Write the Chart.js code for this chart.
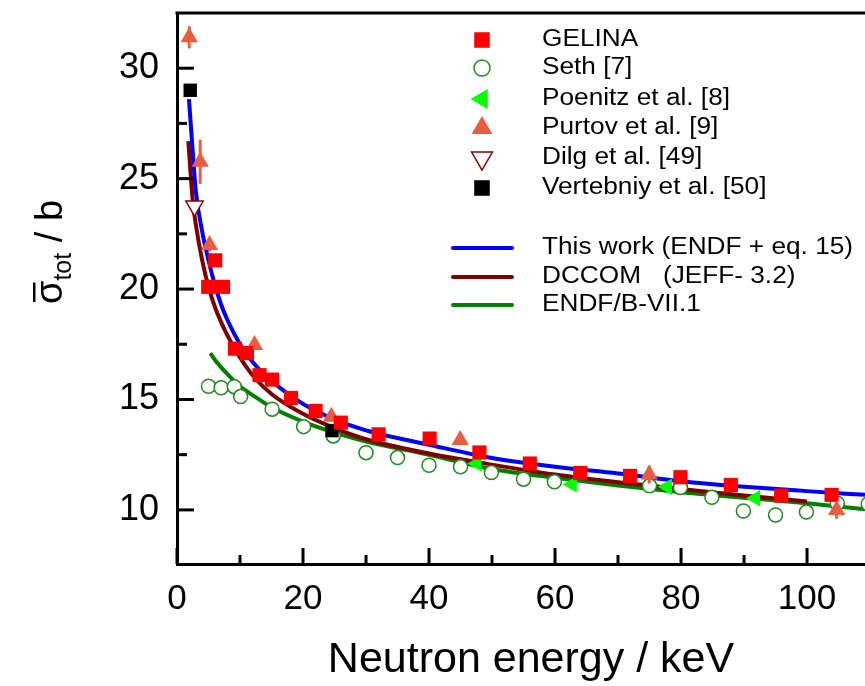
<!DOCTYPE html>
<html lang="en">
<head>
<meta charset="UTF-8">
<title>Total cross section vs neutron energy</title>
<script src="https://cdn.jsdelivr.net/npm/chart.js@4.4.0/dist/chart.umd.min.js"></script>
<style>
  body { margin: 0; background: #fff; }
  #wrap { width: 865px; height: 686px; position: relative; }
</style>
</head>
<body>
<div id="wrap"><canvas id="xsChart"></canvas></div>
<script>
// ---- data (energy in keV, cross section in b) ----
const gelinaE  = [4.95, 6.06, 7.3, 9.2, 11.1, 13.1, 15.1, 18.1, 22.0, 26.0, 32.0, 40.1, 48.0, 56.0, 64.0, 71.9, 79.9, 87.9, 95.9, 103.9];
const gelinaXS = [20.1, 21.3, 20.1, 17.3, 17.1, 16.1, 15.9, 15.07, 14.48, 13.95, 13.42, 13.23, 12.6, 12.1, 11.67, 11.54, 11.48, 11.13, 10.65, 10.68];

const sethE  = [5.0, 7.0, 9.1, 10.1, 15.1, 20.1, 24.8, 30.0, 35.0, 40.0, 45.0, 49.9, 55.0, 59.9, 75.0, 79.9, 84.9, 89.9, 95.0, 99.9, 104.8, 109.7];
const sethXS = [15.6, 15.53, 15.58, 15.13, 14.56, 13.77, 13.35, 12.59, 12.37, 12.02, 11.95, 11.69, 11.39, 11.27, 11.09, 11.01, 10.57, 9.95, 9.77, 9.9, 10.3, 10.27];

const poenitzE  = [47.6, 62.7, 77.8, 91.8];
const poenitzXS = [12.1, 11.16, 11.05, 10.53];

const purtovE   = [1.94, 3.68, 5.16, 12.3, 24.5, 44.95, 74.95, 104.7];
const purtovXS  = [31.4, 25.76, 22.0, 17.47, 14.22, 13.17, 11.6, 10.0];
const purtovErr = [0.5, 1.0, 0.3, 0.2, 0.2, 0.2, 0.4, 0.4];

const dilgE  = [2.78];
const dilgXS = [23.76];

const vertE  = [2.1, 24.6];
const vertXS = [29.0, 13.59];

const thisWorkE  = [1.9, 2.5, 3, 4, 5, 6, 7, 8, 10, 12, 15, 20, 25, 30, 40, 50, 60, 70, 80, 90, 100, 109.2];
const thisWorkXS = [28.6, 26.2, 24.4, 22.6, 21.3, 20.2, 19.3, 18.6, 17.5, 16.7, 15.85, 14.8, 14.1, 13.6, 12.95, 12.35, 11.95, 11.65, 11.3, 11.05, 10.85, 10.68];

const dccomE  = [1.8, 2.5, 3, 4, 5, 6, 8, 10, 12, 15, 20, 25, 30, 40, 50, 60, 70, 80, 90, 100];
const dccomXS = [26.7, 24.0, 22.9, 21.3, 20.1, 19.2, 17.9, 16.9, 16.1, 15.25, 14.35, 13.7, 13.2, 12.55, 12.05, 11.6, 11.25, 10.95, 10.65, 10.38];

const endfE  = [5.3, 6, 8, 10, 12, 15, 20, 25, 30, 40, 50, 60, 70, 80, 90, 100, 109.2];
const endfXS = [17.1, 16.8, 16.15, 15.6, 15.2, 14.65, 14.0, 13.5, 13.1, 12.5, 11.85, 11.45, 11.1, 10.8, 10.55, 10.3, 10.03];

const xTicks = [0, 20, 40, 60, 80, 100];
const xMinor = [10, 30, 50, 70, 90];
const yTicks = [10, 15, 20, 25, 30];
const yMinor = [12.5, 17.5, 22.5, 27.5];

function pts(xs, ys) { return xs.map((x, i) => ({ x: x, y: ys[i] })); }

const FONT = "'Liberation Sans', Arial, sans-serif";

const datasets = [
  { label: 'GELINA', data: pts(gelinaE, gelinaXS), pointStyle: 'rect', pointRadius: 10,
    backgroundColor: '#ff0000', borderColor: '#ff0000', borderWidth: 0, order: 1 },
  { label: 'Vertebniy et al. [50]', data: pts(vertE, vertXS), pointStyle: 'rect', pointRadius: 9.5,
    backgroundColor: '#000000', borderColor: '#000000', borderWidth: 0, order: 1 },
  { label: 'Purtov et al. [9]', data: pts(purtovE, purtovXS), pointStyle: 'triangle', pointRadius: 10,
    backgroundColor: '#e85d42', borderColor: '#e85d42', borderWidth: 0, order: 2 },
  { label: 'Poenitz et al. [8]', data: pts(poenitzE, poenitzXS), pointStyle: 'triangle', pointRadius: 9.5,
    pointRotation: -90, backgroundColor: '#00ff00', borderColor: '#00ff00', borderWidth: 0, order: 2 },
  { label: 'Dilg et al. [49]', data: pts(dilgE, dilgXS), pointStyle: 'triangle', pointRadius: 10,
    pointRotation: 180, backgroundColor: '#ffffff', borderColor: '#8b0000', borderWidth: 1.5, order: 2 },
  { label: 'Seth [7]', data: pts(sethE, sethXS), pointStyle: 'circle', pointRadius: 7,
    backgroundColor: '#ffffff', borderColor: '#1f8a1f', borderWidth: 1.5, order: 3 },
  { type: 'line', label: 'This work (ENDF + eq. 15)', data: pts(thisWorkE, thisWorkXS), showLine: true,
    borderColor: '#0000ff', borderWidth: 4, pointRadius: 0, fill: false, cubicInterpolationMode: 'monotone', order: 10 },
  { type: 'line', label: 'DCCOM   (JEFF- 3.2)', data: pts(dccomE, dccomXS), showLine: true,
    borderColor: '#800000', borderWidth: 4, pointRadius: 0, fill: false, cubicInterpolationMode: 'monotone', order: 11 },
  { type: 'line', label: 'ENDF/B-VII.1', data: pts(endfE, endfXS), showLine: true,
    borderColor: '#008000', borderWidth: 4, pointRadius: 0, fill: false, cubicInterpolationMode: 'monotone', order: 12 }
];

// legend entries: marker rows then line rows
const legendMarkers = [
  { text: 'GELINA', style: 'rect', r: 11, fill: '#ff0000', stroke: null, y: 40 },
  { text: 'Seth [7]', style: 'circle', r: 8, fill: '#ffffff', stroke: '#1f8a1f', y: 68 },
  { text: 'Poenitz et al. [8]', style: 'triangle', r: 11.5, rot: -90, fill: '#00ff00', stroke: null, y: 99 },
  { text: 'Purtov et al. [9]', style: 'triangle', r: 12, fill: '#e85d42', stroke: null, y: 128 },
  { text: 'Dilg et al. [49]', style: 'triangle', r: 12, rot: 180, fill: '#ffffff', stroke: '#8b0000', y: 158 },
  { text: 'Vertebniy et al. [50]', style: 'rect', r: 11, fill: '#000000', stroke: null, y: 188 }
];
const legendLines = [
  { text: 'This work (ENDF + eq. 15)', color: '#0000ff', y: 248 },
  { text: 'DCCOM   (JEFF- 3.2)', color: '#800000', y: 277 },
  { text: 'ENDF/B-VII.1', color: '#008000', y: 305 }
];

function drawMarker(ctx, m, x, y) {
  ctx.save();
  ctx.beginPath();
  if (m.style === 'rect') {
    const s = m.r / Math.SQRT2;
    ctx.rect(x - s, y - s, 2 * s, 2 * s);
  } else if (m.style === 'circle') {
    ctx.arc(x, y, m.r, 0, Math.PI * 2);
  } else {
    let a = (m.rot || 0) * Math.PI / 180;
    for (let k = 0; k < 3; k++) {
      const px = x + Math.sin(a) * m.r, py = y - Math.cos(a) * m.r;
      if (k === 0) ctx.moveTo(px, py); else ctx.lineTo(px, py);
      a += 2 * Math.PI / 3;
    }
    ctx.closePath();
  }
  ctx.fillStyle = m.fill;
  ctx.fill();
  if (m.stroke) { ctx.strokeStyle = m.stroke; ctx.lineWidth = 1.5; ctx.stroke(); }
  ctx.restore();
}

function legendText(ctx, text, x, y) {
  ctx.save();
  ctx.translate(x, y);
  ctx.scale(1.14, 1);
  ctx.font = '23px ' + FONT;
  ctx.fillStyle = '#000';
  ctx.textBaseline = 'middle';
  ctx.textAlign = 'left';
  ctx.fillText(text, 0, 0);
  ctx.restore();
}

const decorPlugin = {
  id: 'decor',
  afterDatasetsDraw(chart) {
    // Purtov error bars
    const ctx = chart.ctx, xs = chart.scales.x, ys = chart.scales.y;
    ctx.save();
    ctx.strokeStyle = '#e85d42';
    ctx.lineWidth = 3;
    purtovE.forEach((e, i) => {
      const px = xs.getPixelForValue(e);
      ctx.beginPath();
      ctx.moveTo(px, ys.getPixelForValue(purtovXS[i] + purtovErr[i]));
      ctx.lineTo(px, ys.getPixelForValue(purtovXS[i] - purtovErr[i]));
      ctx.stroke();
    });
    ctx.restore();
  },
  afterDraw(chart) {
    const ctx = chart.ctx, xs = chart.scales.x, ys = chart.scales.y, a = chart.chartArea;
    ctx.save();
    ctx.strokeStyle = '#000';
    ctx.lineWidth = 3;
    // top frame line
    ctx.beginPath();
    ctx.moveTo(a.left - 1.5, a.top);
    ctx.lineTo(a.right, a.top);
    ctx.stroke();
    // inward ticks
    const tick = (x1, y1, x2, y2) => { ctx.beginPath(); ctx.moveTo(x1, y1); ctx.lineTo(x2, y2); ctx.stroke(); };
    xTicks.forEach(v => { const p = xs.getPixelForValue(v); tick(p, a.bottom, p, a.bottom - 16); });
    xMinor.forEach(v => { const p = xs.getPixelForValue(v); tick(p, a.bottom, p, a.bottom - 9); });
    yTicks.forEach(v => { const p = ys.getPixelForValue(v); tick(a.left, p, a.left + 17, p); });
    yMinor.forEach(v => { const p = ys.getPixelForValue(v); tick(a.left, p, a.left + 10, p); });
    ctx.restore();

    // legend
    legendMarkers.forEach(m => { drawMarker(ctx, m, 482, m.y); legendText(ctx, m.text, 542, m.y); });
    legendLines.forEach(l => {
      ctx.save();
      ctx.strokeStyle = l.color;
      ctx.lineWidth = 4;
      ctx.lineCap = 'round';
      ctx.beginPath();
      ctx.moveTo(453, l.y); ctx.lineTo(512, l.y);
      ctx.stroke();
      ctx.restore();
      legendText(ctx, l.text, 542, l.y);
    });

    // x axis title
    ctx.save();
    ctx.fillStyle = '#000';
    ctx.font = '43px ' + FONT;
    ctx.textAlign = 'center';
    ctx.textBaseline = 'middle';
    ctx.fillText('Neutron energy / keV', 531, 660);
    ctx.restore();

    // y axis title: sigma-bar with subscript "tot", then " / b"
    ctx.save();
    ctx.translate(50, 252);
    ctx.rotate(-Math.PI / 2);
    ctx.fillStyle = '#000';
    ctx.textBaseline = 'alphabetic';
    const big = '38px ' + FONT, small = '25px ' + FONT;
    ctx.font = big; const wS = ctx.measureText('σ').width;
    ctx.font = small; const wT = ctx.measureText('tot').width;
    ctx.font = big; const wB = ctx.measureText(' / b').width;
    let x0 = -(wS + wT + wB) / 2;
    ctx.font = big;
    ctx.fillText('σ', x0, 12);
    ctx.fillRect(x0 + 2, -17, wS - 4, 2.5);
    ctx.font = small;
    ctx.fillText('tot', x0 + wS, 21);
    ctx.font = big;
    ctx.fillText(' / b', x0 + wS + wT, 12);
    ctx.restore();
  }
};

const ctx = document.getElementById('xsChart');
new Chart(ctx, {
  type: 'scatter',
  data: { datasets: datasets },
  options: {
    responsive: true,
    maintainAspectRatio: false,
    animation: false,
    layout: { autoPadding: false, padding: { top: 13, right: 0, left: 0, bottom: 0 } },
    plugins: { legend: { display: false }, tooltip: { enabled: false } },
    scales: {
      x: {
        type: 'linear', min: 0, max: 109.2,
        grid: { display: false, drawTicks: false },
        border: { display: true, color: '#000', width: 3 },
        afterBuildTicks: s => { s.ticks = xTicks.map(v => ({ value: v })); },
        afterFit: s => { s.height = 122; s.paddingLeft = 0; s.paddingRight = 0; },
        ticks: { color: '#000', font: { size: 35, family: FONT }, padding: 14, maxRotation: 0 }
      },
      y: {
        type: 'linear', min: 7.55, max: 32.5,
        grid: { display: false, drawTicks: false },
        border: { display: true, color: '#000', width: 3 },
        afterBuildTicks: s => { s.ticks = yTicks.map(v => ({ value: v })); },
        afterFit: s => { s.width = 177; s.paddingTop = 0; s.paddingBottom = 0; },
        ticks: { color: '#000', font: { size: 36, family: FONT }, padding: 18 }
      }
    }
  },
  plugins: [decorPlugin]
});
</script>
</body>
</html>
